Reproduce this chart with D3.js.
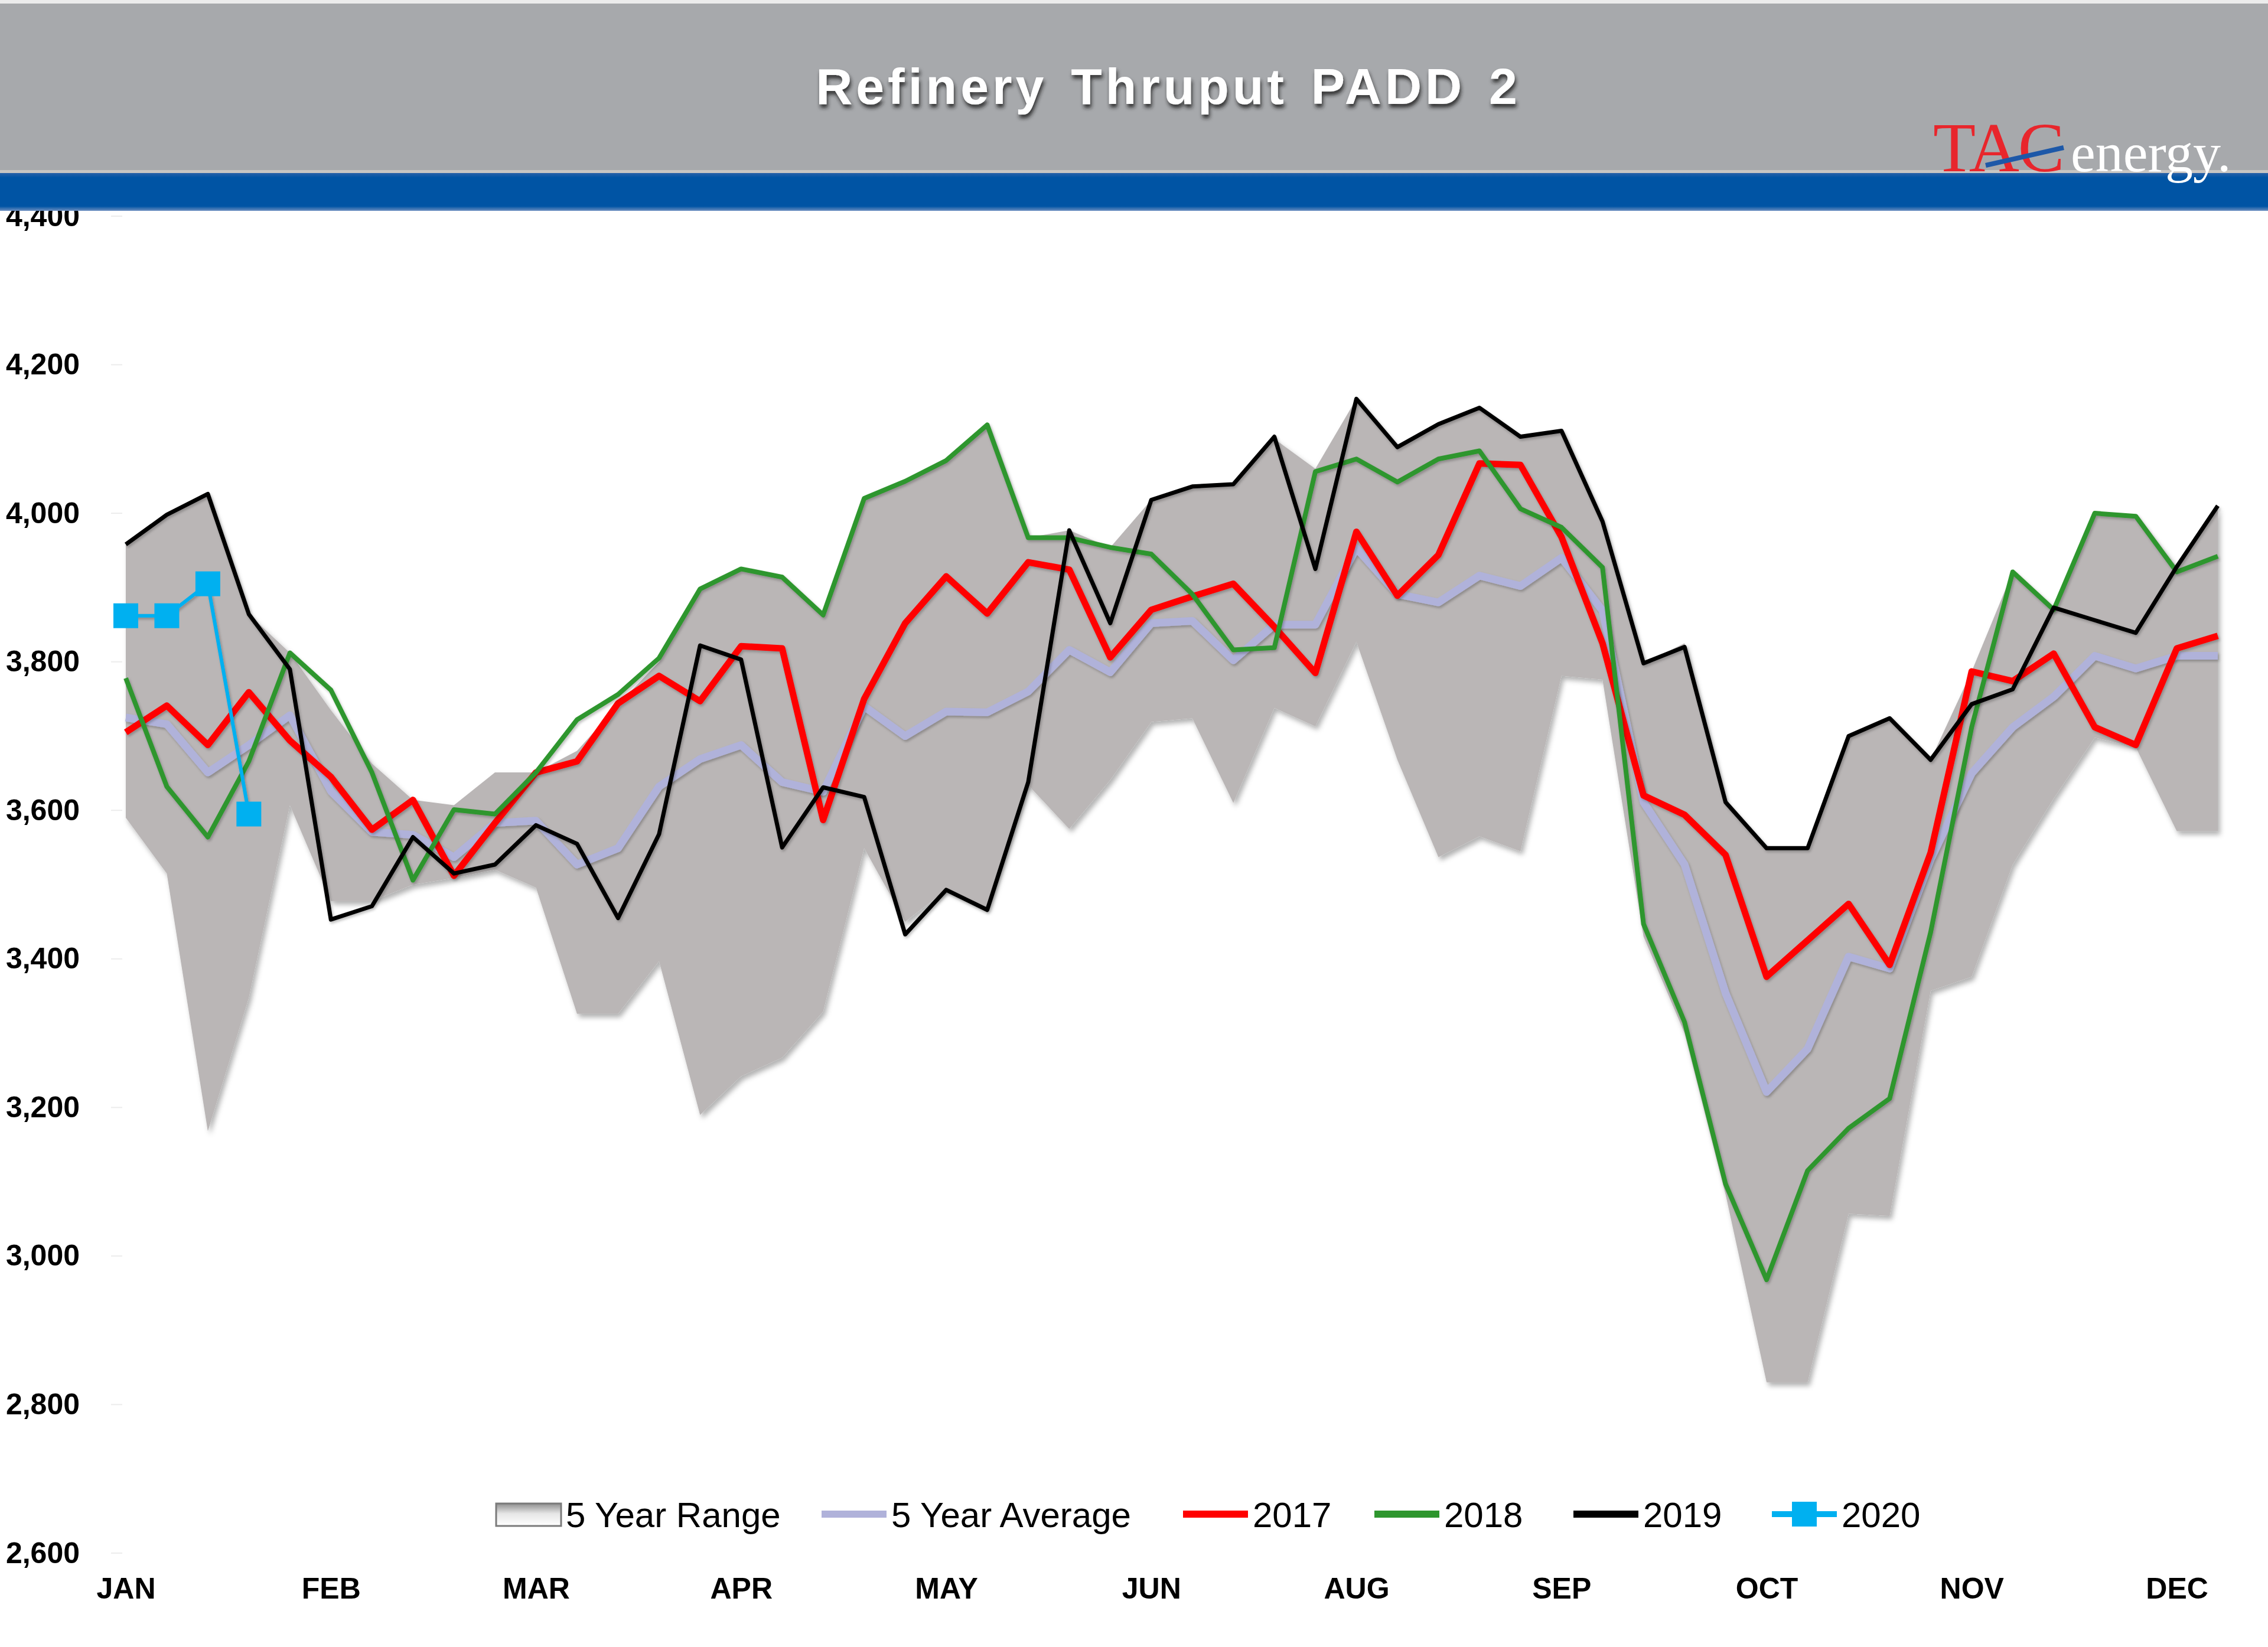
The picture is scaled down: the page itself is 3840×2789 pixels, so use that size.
<!DOCTYPE html>
<html>
<head>
<meta charset="utf-8">
<script src="https://cdn.jsdelivr.net/npm/d3@7"></script>
<style>
  html, body { margin: 0; padding: 0; background: #ffffff; }
  svg { display: block; }
</style>
</head>
<body>
<svg id="chart" width="3840" height="2789"></svg>
<script>
// ---------------- DATA ----------------
const title = "Refinery Thruput PADD 2";
const monthLabels = ["JAN", "FEB", "MAR", "APR", "MAY", "JUN", "AUG", "SEP", "OCT", "NOV", "DEC"];
const monthTickWeeks = [0, 5, 10, 15, 20, 25, 30, 35, 40, 45, 50];
const yTicks = [2600, 2800, 3000, 3200, 3400, 3600, 3800, 4000, 4200, 4400];
const legendNames = ["5 Year Range", "5 Year Average", "2017", "2018", "2019", "2020"];

const rangeLow = [3590, 3515, 3168, 3348, 3607, 3478, 3478, 3500, 3509, 3520,
  3496, 3326, 3326, 3397, 3190, 3242, 3267, 3329, 3549, 3450,
  3493, 3468, 3634, 3575, 3641, 3719, 3724, 3610, 3738, 3713,
  3827, 3668, 3537, 3565, 3545, 3781, 3776, 3430, 3300, 3083,
  2830, 2830, 3057, 3054, 3357, 3376, 3527, 3616, 3698, 3685,
  3572, 3572];
const rangeHigh = [3958, 3998, 4026, 3864, 3812, 3735, 3663, 3614, 3607, 3651,
  3651, 3680, 3742, 3800, 3898, 3925, 3914, 3863, 4020, 4043,
  4071, 4119, 3967, 3977, 3954, 4018, 4036, 4039, 4100, 4060,
  4154, 4089, 4120, 4142, 4103, 4111, 3989, 3798, 3825, 3611,
  3549, 3549, 3700, 3724, 3668, 3787, 3921, 3873, 4000, 3996,
  3928, 4010];
const avg5 = [3725, 3716, 3651, 3688, 3728, 3626, 3571, 3567, 3537, 3583,
  3586, 3527, 3549, 3632, 3669, 3688, 3638, 3625, 3740, 3700,
  3733, 3732, 3760, 3816, 3786, 3852, 3855, 3802, 3850, 3850,
  3953, 3891, 3880, 3916, 3902, 3940, 3869, 3611, 3527, 3354,
  3221, 3279, 3403, 3387, 3534, 3650, 3712, 3753, 3808, 3791,
  3808, 3808];
const y2017 = [3705, 3741, 3688, 3759, 3694, 3645, 3574, 3614, 3512, 3583,
  3651, 3666, 3744, 3781, 3747, 3821, 3818, 3587, 3750, 3852,
  3915, 3865, 3934, 3924, 3806, 3870, 3888, 3905, 3847, 3785,
  3975, 3889, 3944, 4067, 4065, 3968, 3825, 3620, 3594, 3540,
  3376, 3425, 3474, 3392, 3543, 3787, 3774, 3811, 3712, 3688,
  3818, 3835];
const y2018 = [3778, 3632, 3564, 3666, 3812, 3762, 3651, 3506, 3601, 3595,
  3651, 3722, 3756, 3805, 3898, 3925, 3914, 3863, 4020, 4043,
  4071, 4119, 3967, 3967, 3954, 3945, 3891, 3816, 3819, 4056,
  4073, 4042, 4073, 4084, 4006, 3981, 3927, 3447, 3315, 3097,
  2968, 3115, 3172, 3212, 3436, 3712, 3921, 3870, 4000, 3996,
  3921, 3942];
const y2019 = [3958, 3998, 4026, 3864, 3790, 3453, 3471, 3564, 3515, 3527,
  3580, 3555, 3455, 3568, 3822, 3803, 3550, 3631, 3618, 3433,
  3493, 3466, 3638, 3977, 3852, 4018, 4036, 4039, 4103, 3925,
  4154, 4089, 4120, 4142, 4103, 4111, 3989, 3798, 3820, 3611,
  3549, 3549, 3700, 3724, 3668, 3743, 3763, 3873, 3856, 3839,
  3928, 4010];
const y2020 = [3862, 3862, 3905, 3595];

// ---------------- LAYOUT ----------------
const svg = d3.select("#chart");
const defs = svg.append("defs");

const x = d3.scaleLinear().domain([0, 51]).range([213, 3755]);
const y = d3.scaleLinear().domain([2600, 4400]).range([2630, 366]);

const C = {
  range: "#bab6b6", avg: "#b0b2da", y2017: "#ff0000", y2018: "#2e962e",
  y2019: "#000000", y2020: "#00b0f0", header: "#a7a9ac", band: "#0054a4"
};

// filters
const sh = defs.append("filter").attr("id", "shadow")
  .attr("x", "-5%").attr("y", "-10%").attr("width", "110%").attr("height", "130%");
sh.append("feDropShadow").attr("dx", 4).attr("dy", 6).attr("stdDeviation", 4)
  .attr("flood-color", "#000").attr("flood-opacity", 0.3);

const lsh = defs.append("filter").attr("id", "lshadow")
  .attr("x", "-5%").attr("y", "-10%").attr("width", "110%").attr("height", "130%");
lsh.append("feDropShadow").attr("dx", 2).attr("dy", 3).attr("stdDeviation", 2)
  .attr("flood-color", "#000").attr("flood-opacity", 0.25);

const tsh = defs.append("filter").attr("id", "tshadow")
  .attr("x", "-10%").attr("y", "-30%").attr("width", "120%").attr("height", "180%");
tsh.append("feDropShadow").attr("dx", 2).attr("dy", 6).attr("stdDeviation", 3)
  .attr("flood-color", "#1a1a1a").attr("flood-opacity", 0.85);

const lg = defs.append("linearGradient").attr("id", "rangeSwatch")
  .attr("x1", 0).attr("y1", 0).attr("x2", 0).attr("y2", 1);
lg.append("stop").attr("offset", "0%").attr("stop-color", "#8f8f8f");
lg.append("stop").attr("offset", "45%").attr("stop-color", "#e6e6e6");
lg.append("stop").attr("offset", "100%").attr("stop-color", "#ffffff");

const bandGrad = defs.append("linearGradient").attr("id", "bandGrad")
  .attr("x1", 0).attr("y1", 0).attr("x2", 0).attr("y2", 1);
bandGrad.append("stop").attr("offset", "0%").attr("stop-color", "#2a62a8");
bandGrad.append("stop").attr("offset", "12%").attr("stop-color", C.band);
bandGrad.append("stop").attr("offset", "88%").attr("stop-color", C.band);
bandGrad.append("stop").attr("offset", "100%").attr("stop-color", "#6e8fc0");

// faint tick marks on left
svg.append("g").selectAll("line").data(yTicks).join("line")
  .attr("x1", 188).attr("x2", 207)
  .attr("y1", d => y(d)).attr("y2", d => y(d))
  .attr("stroke", "#ececec").attr("stroke-width", 2);

// ---------------- Y AXIS ----------------
const yAxis = svg.append("g").attr("transform", "translate(145,0)")
  .call(d3.axisLeft(y).tickValues(yTicks).tickFormat(d3.format(",")).tickSize(0).tickPadding(10));
yAxis.select(".domain").remove();
yAxis.selectAll("text")
  .attr("font-family", "'Liberation Sans', Arial, sans-serif")
  .attr("font-weight", "bold").attr("font-size", 50).attr("fill", "#000");

// ---------------- X AXIS ----------------
const xAxis = svg.append("g").attr("transform", "translate(0,2630)")
  .call(d3.axisBottom(x).tickValues(monthTickWeeks)
    .tickFormat((d, i) => monthLabels[i]).tickSize(0).tickPadding(41));
xAxis.select(".domain").remove();
xAxis.selectAll("text")
  .attr("font-family", "'Liberation Sans', Arial, sans-serif")
  .attr("font-weight", "bold").attr("font-size", 50).attr("fill", "#000");

// bottom axis line
svg.append("line")
  .attr("x1", x(0)).attr("x2", 3760).attr("y1", y(2600)).attr("y2", y(2600))
  .attr("stroke", "#c4c4c8").attr("stroke-width", 4).attr("filter", "url(#lshadow)");

// ---------------- RANGE AREA ----------------
const idx = d3.range(rangeLow.length);
const area = d3.area().x(i => x(i)).y0(i => y(rangeLow[i])).y1(i => y(rangeHigh[i]));
svg.append("path").datum(idx)
  .attr("d", area).attr("fill", C.range).attr("filter", "url(#shadow)");

// ---------------- LINES ----------------
const lineOf = arr => d3.line().x((d, i) => x(i)).y(d => y(d))(arr);

// 5-year average drop lines at both ends
svg.append("line")
  .attr("x1", x(0)).attr("x2", x(0)).attr("y1", y(avg5[0])).attr("y2", y(2600))
  .attr("stroke", C.avg).attr("stroke-width", 10).attr("filter", "url(#lshadow)");
svg.append("line")
  .attr("x1", x(avg5.length - 1)).attr("x2", x(avg5.length - 1))
  .attr("y1", y(avg5[avg5.length - 1])).attr("y2", y(2600))
  .attr("stroke", C.avg).attr("stroke-width", 10).attr("filter", "url(#lshadow)");

const series = [
  { data: avg5, color: C.avg, w: 13 },
  { data: y2017, color: C.y2017, w: 11 },
  { data: y2018, color: C.y2018, w: 8 },
  { data: y2019, color: C.y2019, w: 7 }
];
series.forEach(s => {
  svg.append("path")
    .attr("d", lineOf(s.data))
    .attr("fill", "none").attr("stroke", s.color).attr("stroke-width", s.w)
    .attr("stroke-linejoin", "round").attr("filter", "url(#lshadow)");
});

// 2020 line with square markers
svg.append("path")
  .attr("d", lineOf(y2020))
  .attr("fill", "none").attr("stroke", C.y2020).attr("stroke-width", 6)
  .attr("filter", "url(#lshadow)");
svg.append("g").selectAll("rect").data(y2020).join("rect")
  .attr("x", (d, i) => x(i) - 21).attr("y", d => y(d) - 21)
  .attr("width", 42).attr("height", 42).attr("fill", C.y2020);

// ---------------- LEGEND ----------------
const legY = 2564;
const legFont = "'Liberation Sans', Arial, sans-serif";
const legItems = [
  { name: legendNames[0], type: "box", sx: 840, tx: 958 },
  { name: legendNames[1], type: "line", color: C.avg, sx: 1391, tx: 1509, w: 12 },
  { name: legendNames[2], type: "line", color: C.y2017, sx: 2003, tx: 2121, w: 12 },
  { name: legendNames[3], type: "line", color: C.y2018, sx: 2327, tx: 2445, w: 12 },
  { name: legendNames[4], type: "line", color: C.y2019, sx: 2664, tx: 2782, w: 12 },
  { name: legendNames[5], type: "marker", color: C.y2020, sx: 3000, tx: 3118, w: 10 }
];
const leg = svg.append("g");
legItems.forEach(it => {
  if (it.type === "box") {
    leg.append("rect").attr("x", it.sx).attr("y", legY - 18).attr("width", 110).attr("height", 38)
      .attr("fill", "url(#rangeSwatch)").attr("stroke", "#7a7a7a").attr("stroke-width", 3);
  } else {
    leg.append("line").attr("x1", it.sx).attr("x2", it.sx + 110)
      .attr("y1", legY).attr("y2", legY)
      .attr("stroke", it.color).attr("stroke-width", it.w);
    if (it.type === "marker") {
      leg.append("rect").attr("x", it.sx + 55 - 21).attr("y", legY - 21)
        .attr("width", 42).attr("height", 42).attr("fill", it.color);
    }
  }
  leg.append("text").attr("x", it.tx).attr("y", legY + 22)
    .attr("font-family", legFont).attr("font-size", 60).attr("fill", "#000")
    .text(it.name);
});

// ---------------- HEADER ----------------
const header = svg.append("g");
header.append("rect").attr("x", 0).attr("y", 0).attr("width", 3840).attr("height", 6).attr("fill", "#ececec");
header.append("rect").attr("x", 0).attr("y", 6).attr("width", 3840).attr("height", 286).attr("fill", C.header);
header.append("rect").attr("x", 0).attr("y", 288).attr("width", 3840).attr("height", 5).attr("fill", "#c9c6c2");
header.append("rect").attr("x", 0).attr("y", 293).attr("width", 3840).attr("height", 64).attr("fill", "url(#bandGrad)");

header.append("text")
  .attr("x", 1978).attr("y", 176).attr("text-anchor", "middle")
  .attr("font-family", "'Liberation Sans', Arial, sans-serif")
  .attr("font-weight", "bold").attr("font-size", 86)
  .attr("letter-spacing", 6).attr("word-spacing", 10)
  .attr("fill", "#ffffff").attr("filter", "url(#tshadow)")
  .text(title);

// logo
header.append("text")
  .attr("x", 3273).attr("y", 290)
  .attr("font-family", "'Liberation Serif', 'Times New Roman', serif")
  .attr("font-size", 118).attr("letter-spacing", -2).attr("fill", "#e8262c")
  .text("TAC");
header.append("line")
  .attr("x1", 3362).attr("y1", 280).attr("x2", 3494).attr("y2", 250)
  .attr("stroke", "#1d58a8").attr("stroke-width", 8);
header.append("text")
  .attr("x", 3506).attr("y", 290)
  .attr("font-family", "'Liberation Serif', 'Times New Roman', serif")
  .attr("font-size", 94).attr("fill", "#ffffff")
  .text("energy.");
</script>
</body>
</html>
